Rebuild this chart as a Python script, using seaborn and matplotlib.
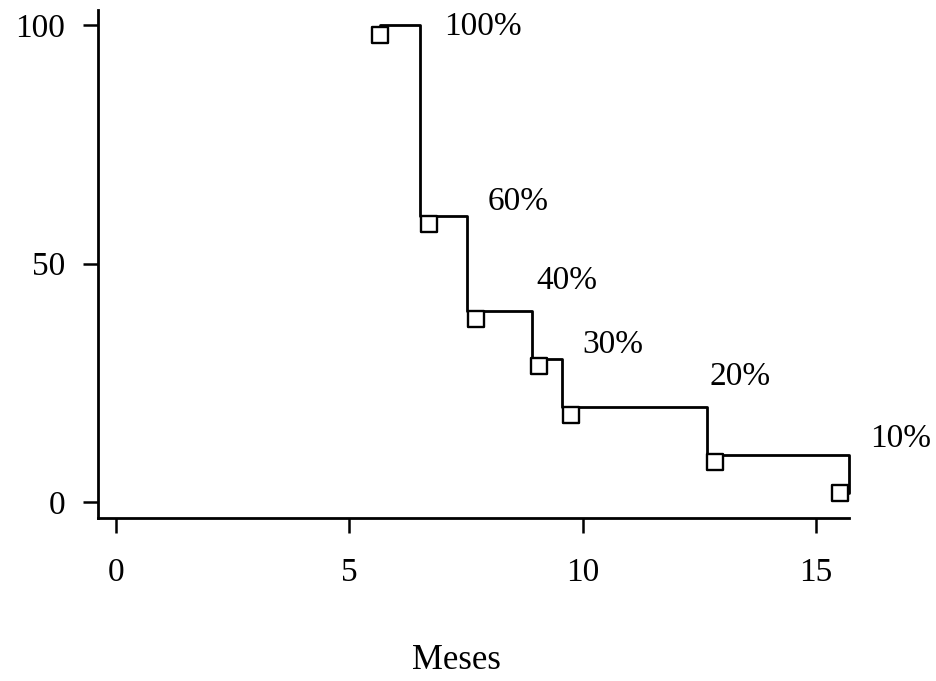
import matplotlib
matplotlib.use("Agg")
import matplotlib.pyplot as plt
import seaborn as sns
import pandas as pd

# Step function (survival %)
step_time = [5.65, 6.52, 7.53, 8.91, 9.56, 12.65, 15.70]
step_value = [100, 60, 40, 30, 20, 10, 2]

# Square markers
marker_time = [5.65, 6.70, 7.71, 9.07, 9.74, 12.83, 15.51]
marker_value = [98.0, 58.3, 38.4, 28.5, 18.2, 8.4, 2.0]

# Percentage annotations
label_text = ["100%", "60%", "40%", "30%", "20%", "10%"]
label_x = [7.04, 7.97, 9.01, 10.0, 12.72, 16.15]
label_y = [99.6, 62.9, 46.5, 32.9, 26.2, 13.4]

x_ticks = [0, 5, 10, 15]
y_ticks = [0, 50, 100]

sns.set_style("ticks")
plt.rcParams["font.family"] = ["Liberation Serif", "DejaVu Serif"]
plt.rcParams["text.color"] = "black"
plt.rcParams["xtick.color"] = "black"
plt.rcParams["ytick.color"] = "black"
plt.rcParams["axes.labelcolor"] = "black"

fig = plt.figure(figsize=(9.37, 6.81), dpi=100)
ax = fig.add_axes([0.105, 0.239, 0.801, 0.746])

steps = pd.DataFrame({"t": step_time, "v": step_value})
marks = pd.DataFrame({"t": marker_time, "v": marker_value})

sns.lineplot(data=steps, x="t", y="v", ax=ax, color="black", linewidth=2.0,
             drawstyle="steps-post", estimator=None, sort=False)
for ln in ax.lines:
    ln.set_clip_on(False)
sns.scatterplot(data=marks, x="t", y="v", ax=ax, marker="s", s=125,
                facecolor="white", edgecolor="black", linewidth=1.7, zorder=3,
                clip_on=False)

for txt, lx, ly in zip(label_text, label_x, label_y):
    ax.text(lx, ly, txt, fontsize=24, ha="left", va="center", color="black",
            clip_on=False)

ax.set_xlim(-0.375, 15.70)
ax.set_ylim(-3.35, 103.1)
ax.set_xticks(x_ticks)
ax.set_yticks(y_ticks)
ax.tick_params(axis="both", labelsize=24, width=1.8, length=11, color="black",
               labelcolor="black")
ax.tick_params(axis="x", pad=17)
ax.tick_params(axis="y", pad=13)

for side in ["top", "right"]:
    ax.spines[side].set_visible(False)
for side in ["left", "bottom"]:
    ax.spines[side].set_linewidth(2.0)
    ax.spines[side].set_color("black")

ax.set_ylabel("")
ax.set_xlabel("Meses", fontsize=25, color="black")
ax.xaxis.set_label_coords(0.477, -0.248)

fig.savefig("out.png", dpi=100)
